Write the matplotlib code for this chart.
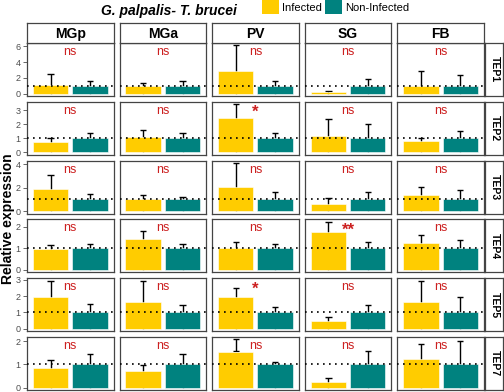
import matplotlib
matplotlib.use("Agg")
import matplotlib.pyplot as plt
from matplotlib.patches import Patch
import numpy as np

plt.rcParams['font.family'] = ['Liberation Sans', 'DejaVu Sans']

tissues = ['MGp', 'MGa', 'PV', 'SG', 'FB']
genes = ['TEP1', 'TEP2', 'TEP3', 'TEP4', 'TEP5', 'TEP7']

# relative expression, rows = genes, columns = tissues
inf_mean = [
    [1.05, 1.00, 2.89, 0.22, 1.00],
    [0.71, 1.10, 2.48, 1.14, 0.83],
    [1.90, 1.00, 2.07, 0.64, 1.34],
    [0.98, 1.44, 1.00, 1.78, 1.25],
    [1.93, 1.62, 1.95, 0.47, 1.66],
    [0.84, 0.72, 1.55, 0.26, 1.23],
]
inf_top = [
    [2.55, 1.40, 6.13, 0.28, 2.89],
    [1.00, 1.62, 3.43, 2.38, 1.05],
    [3.10, 1.34, 4.10, 1.09, 2.04],
    [1.14, 1.81, 1.29, 2.24, 1.62],
    [2.94, 2.90, 2.50, 0.69, 2.92],
    [1.20, 0.95, 2.07, 0.42, 1.88],
]
# lower end of the error bar (hidden under the bar except where it floats)
inf_low = [
    [0.0, 0.0, 0.0, 0.0, 0.0],
    [0.0, 0.0, 0.0, 0.0, 0.0],
    [0.0, 0.0, 0.0, 0.0, 0.0],
    [0.0, 0.0, 0.0, 0.0, 0.0],
    [0.0, 0.0, 0.0, 0.0, 0.0],
    [0.0, 0.0, 1.58, 0.0, 0.0],
]
non_mean = [
    [1.0, 1.0, 1.0, 1.0, 1.0],
    [1.0, 1.0, 1.0, 1.0, 1.0],
    [1.0, 1.0, 1.0, 1.0, 1.0],
    [1.0, 1.0, 1.0, 1.0, 1.0],
    [1.0, 1.0, 1.0, 1.0, 1.0],
    [1.0, 1.0, 1.0, 1.0, 1.0],
]
non_top = [
    [1.66, 1.62, 1.62, 1.87, 2.34],
    [1.38, 1.36, 1.36, 2.02, 1.55],
    [1.46, 1.25, 1.62, 1.60, 1.79],
    [1.20, 1.22, 1.20, 1.29, 1.38],
    [1.50, 1.45, 1.30, 1.44, 1.95],
    [1.45, 1.45, 1.10, 1.58, 2.00],
]
signif = [
    ['ns', 'ns', 'ns', 'ns', 'ns'],
    ['ns', 'ns', '*', 'ns', 'ns'],
    ['ns', 'ns', 'ns', 'ns', 'ns'],
    ['ns', 'ns', 'ns', '**', 'ns'],
    ['ns', 'ns', '*', 'ns', 'ns'],
    ['ns', 'ns', 'ns', 'ns', 'ns'],
]
row_ticks = [[0, 2, 4, 6], [0, 1, 2, 3], [0, 2, 4], [0, 1, 2], [0, 1, 2, 3], [0, 1, 2]]

yellow = '#FFCC00'
teal = '#00827F'
border = '#444444'

W, H = 504, 392
fig = plt.figure(figsize=(W / 100, H / 100), dpi=100)


def px_axes(x0, y0, w, h):
    # pixel box (top-left origin) -> figure axes
    return fig.add_axes([x0 / W, 1 - (y0 + h) / H, w / W, h / H])


col_left = 27
col_w = 86.5
col_step = 92.6
row_top = 43
row_h = 53
row_step = 58.8

x = np.array([1, 2])
for r, gene in enumerate(genes):
    M = max(max(inf_top[r]), max(non_top[r]))
    for c, tissue in enumerate(tissues):
        ax = px_axes(col_left + c * col_step, row_top + r * row_step, col_w, row_h)
        means = [inf_mean[r][c], non_mean[r][c]]
        tops = [inf_top[r][c], non_top[r][c]]
        lows = [inf_low[r][c], 0.0]
        ax.vlines(x, lows, tops, color='black', lw=1.0, zorder=1)
        ax.hlines(tops, x - 0.08, x + 0.08, color='black', lw=1.0, zorder=1)
        if lows[0] > means[0]:
            ax.hlines(lows[0], 0.92, 1.08, color='black', lw=1.0, zorder=1)
        ax.bar(x, means, width=0.9, color=[yellow, teal], edgecolor='white',
               linewidth=0.4, zorder=2)
        ax.axhline(1, color='black', lw=1.2, ls=(0, (1, 2.6)), zorder=3)
        lab = signif[r][c]
        if '*' in lab:
            ax.text(1.5, 0.80, lab, transform=ax.get_xaxis_transform(),
                    ha='center', va='center', color='#CC2020', fontsize=12,
                    fontweight='bold')
        else:
            ax.text(1.5, 0.83, lab, transform=ax.get_xaxis_transform(),
                    ha='center', va='center', color='#CC2020', fontsize=9)
        ax.set_xlim(0.4, 2.6)
        ax.set_ylim(-0.05 * M, 1.05 * M)
        ax.set_xticks([])
        if c == 0:
            ax.set_yticks(row_ticks[r])
            ax.tick_params(axis='y', labelsize=6.5, labelcolor='#4D4D4D',
                           color='#4D4D4D', length=3, width=0.6, pad=1.5)
        else:
            ax.set_yticks([])
        for s in ax.spines.values():
            s.set_color(border)
            s.set_linewidth(0.9)

    # row strip on the right
    sax = px_axes(col_left + 4 * col_step + col_w + 1.5, row_top + r * row_step, 18, row_h)
    sax.set_xticks([])
    sax.set_yticks([])
    for s in sax.spines.values():
        s.set_color(border)
        s.set_linewidth(0.9)
    sax.text(0.5, 0.5, gene, rotation=-90, ha='center', va='center',
             fontsize=7.5, fontweight='bold', transform=sax.transAxes)

# column strips on top
for c, tissue in enumerate(tissues):
    sax = px_axes(col_left + c * col_step, 23, col_w, 20)
    sax.set_xticks([])
    sax.set_yticks([])
    for s in sax.spines.values():
        s.set_color(border)
        s.set_linewidth(0.9)
    sax.text(0.5, 0.45, tissue, ha='center', va='center', fontsize=10,
             fontweight='bold', transform=sax.transAxes)

fig.text(169 / W, 1 - 11 / H, 'G. palpalis- T. brucei', ha='center', va='center',
         fontsize=10, fontweight='bold', fontstyle='italic')
fig.text(8 / W, 1 - 219 / H, 'Relative expression', rotation=90, ha='center',
         va='center', fontsize=10, fontweight='bold')

handles = [Patch(facecolor=yellow, edgecolor='none'), Patch(facecolor=teal, edgecolor='none')]
fig.legend(handles, ['Infected', 'Non-Infected'], loc='upper left',
           bbox_to_anchor=(261 / W, 1 + 1 / H), ncol=2, frameon=False, fontsize=8,
           handlelength=1.5, handleheight=1.5, handletextpad=0.3,
           columnspacing=0.3, borderpad=0.1, borderaxespad=0)

fig.savefig('out.png', dpi=100)
